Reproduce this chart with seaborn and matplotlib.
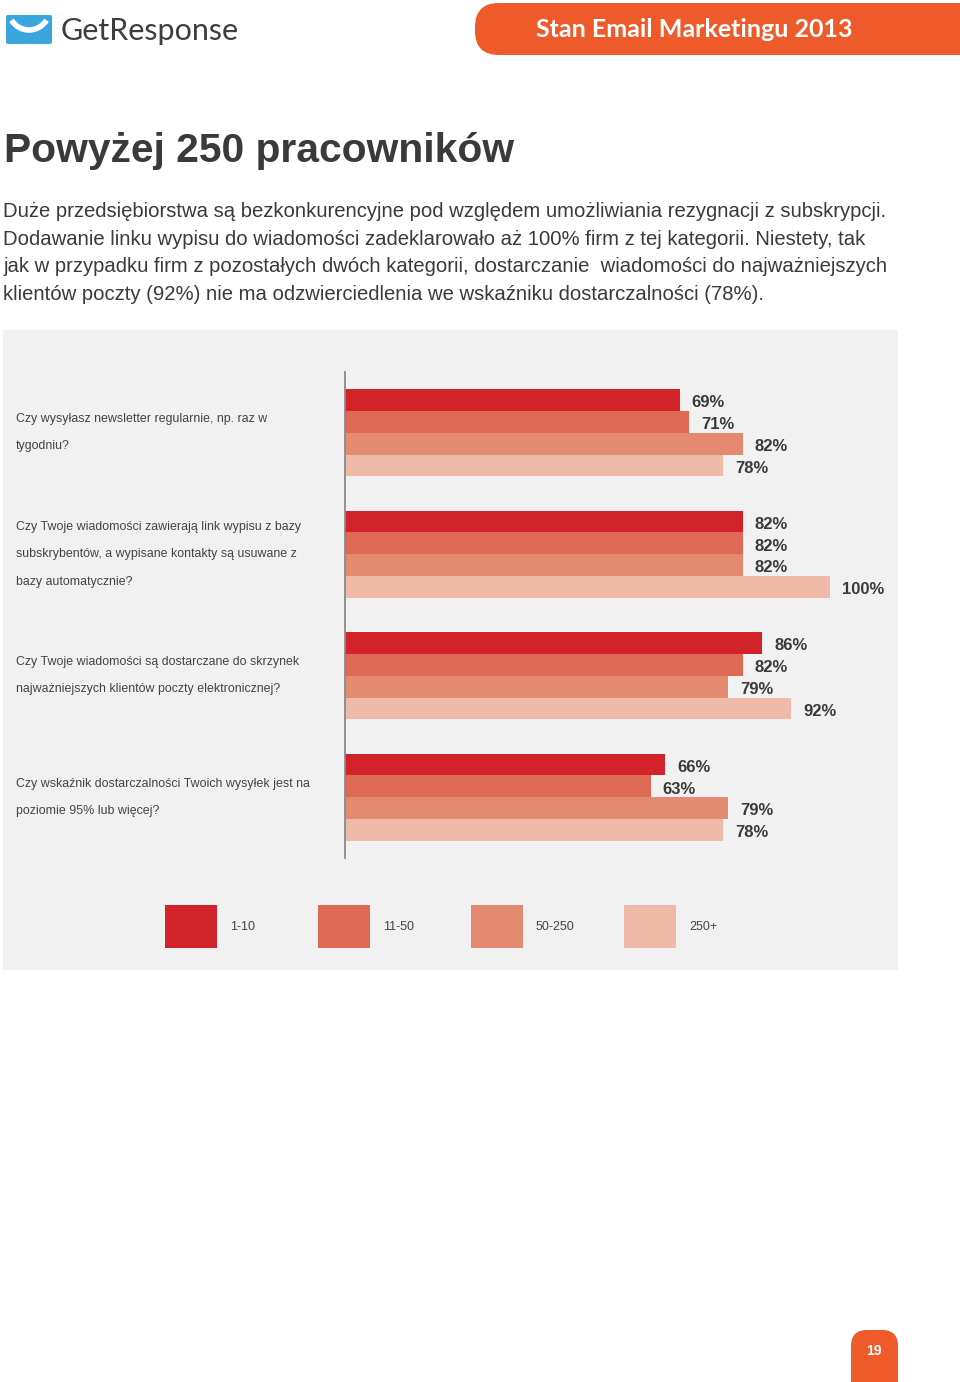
import matplotlib
matplotlib.use("Agg")
import matplotlib.pyplot as plt
import matplotlib.transforms as mtransforms
from matplotlib.patches import Rectangle, FancyBboxPatch, Arc
import pandas as pd
import seaborn as sns

# data
questions = [
    "Czy wysyłasz newsletter regularnie, np. raz w\ntygodniu?",
    "Czy Twoje wiadomości zawierają link wypisu z bazy\nsubskrybentów, a wypisane kontakty są usuwane z\nbazy automatycznie?",
    "Czy Twoje wiadomości są dostarczane do skrzynek\nnajważniejszych klientów poczty elektronicznej?",
    "Czy wskaźnik dostarczalności Twoich wysyłek jest na\npoziomie 95% lub więcej?",
]
sizes = ["1-10", "11-50", "50-250", "250+"]
vals_1_10 = [69, 82, 86, 66]
vals_11_50 = [71, 82, 82, 63]
vals_50_250 = [82, 82, 79, 79]
vals_250 = [78, 100, 92, 78]
colors = ["#D2232A", "#DE6A55", "#E38A71", "#EFBBA8"]

paragraph = [
    "Duże przedsiębiorstwa są bezkonkurencyjne pod względem umożliwiania rezygnacji z subskrypcji.",
    "Dodawanie linku wypisu do wiadomości zadeklarowało aż 100% firm z tej kategorii. Niestety, tak",
    "jak w przypadku firm z pozostałych dwóch kategorii, dostarczanie  wiadomości do najważniejszych",
    "klientów poczty (92%) nie ma odzwierciedlenia we wskaźniku dostarczalności (78%).",
]

rows = []
for s, vals in zip(sizes, [vals_1_10, vals_11_50, vals_50_250, vals_250]):
    for q, v in zip(questions, vals):
        rows.append({"question": q, "size": s, "value": v})
df = pd.DataFrame(rows)

sns.set_theme(style="white")
plt.rcParams["font.family"] = ["Liberation Sans", "DejaVu Sans"]

W, H = 960, 1382
fig = plt.figure(figsize=(W / 100, H / 100), dpi=100)
fig.patch.set_facecolor("white")

# page overlay in pixel coordinates
bg = fig.add_axes([0, 0, 1, 1], zorder=0)
bg.set_xlim(0, W)
bg.set_ylim(H, 0)
bg.axis("off")

# header logo
bg.add_patch(FancyBboxPatch((6, 15), 46, 29, boxstyle="round,pad=0,rounding_size=2",
                            fc="#3AA6DE", ec="none"))
bg.add_patch(Arc((29, 8), 42, 44, theta1=35, theta2=145, color="white", lw=4))
bg.text(61, 40, "GetResponse", fontsize=22, color="#3d3d3d", family=["Lato", "DejaVu Sans"],
        va="baseline", ha="left")

# header badge
bg.add_patch(FancyBboxPatch((475, 3), 560, 52, boxstyle="round,pad=0,rounding_size=24",
                            fc="#EF5A2A", ec="none"))
bg.text(694, 29, "Stan Email Marketingu 2013", fontsize=18, color="white", fontweight="bold",
        family=["Lato", "DejaVu Sans"], va="center", ha="center")

# title and paragraph
bg.text(4, 162, "Powyżej 250 pracowników", fontsize=29.3, fontweight="bold", color="#3a3a3a",
        va="baseline", ha="left")
for i, line in enumerate(paragraph):
    bg.text(3, 217 + i * 27.5, line, fontsize=14.6, color="#3a3a3a", va="baseline", ha="left")

# grey panel
bg.add_patch(Rectangle((3, 330), 895, 640, fc="#F1F1F1", ec="none"))

# legend
for i, (s, c) in enumerate(zip(sizes, colors)):
    bg.add_patch(Rectangle((165 + i * 153, 905), 52, 43, fc=c, ec="none"))
    bg.text(230 + i * 153, 927, s, fontsize=9, color="#444444", va="center", ha="left")

# page number badge
bg.add_patch(FancyBboxPatch((851, 1330), 47, 80, boxstyle="round,pad=0,rounding_size=16",
                            fc="#EF5A2A", ec="none"))
bg.text(874, 1351, "19", fontsize=10, fontweight="bold", color="white", va="center", ha="center")

# main chart
ax = fig.add_axes([345 / W, 1 - 858 / H, 485 / W, 486 / H], zorder=1)
ax.patch.set_alpha(0)
sns.barplot(data=df, x="value", y="question", hue="size", hue_order=sizes, order=questions,
            palette=colors, saturation=1, width=0.72, orient="h", legend=False,
            linewidth=0, edgecolor="none", ax=ax)
ax.set_xlim(0, 100)
ax.set_ylim(3.5, -0.5)
ax.set_xlabel("")
ax.set_ylabel("")
ax.set_xticks([])
ax.set_yticks([])
for side in ["top", "right", "bottom"]:
    ax.spines[side].set_visible(False)
ax.spines["left"].set_color("#8a8a8a")
ax.spines["left"].set_linewidth(1.3)

for cont in ax.containers:
    labels = ax.bar_label(cont, fmt="%d%%", padding=8.6, fontsize=12, fontweight="bold",
                          color="#3a3a3a")
    for lab in labels:
        lab.xyann = (8.6, -2)

trans = mtransforms.blended_transform_factory(fig.transFigure, ax.transData)
for i, q in enumerate(questions):
    ax.text(16 / W, i, q, transform=trans, fontsize=8.9, color="#444444", ha="left",
            va="center", linespacing=2.7)

fig.savefig("out.png", dpi=100)
